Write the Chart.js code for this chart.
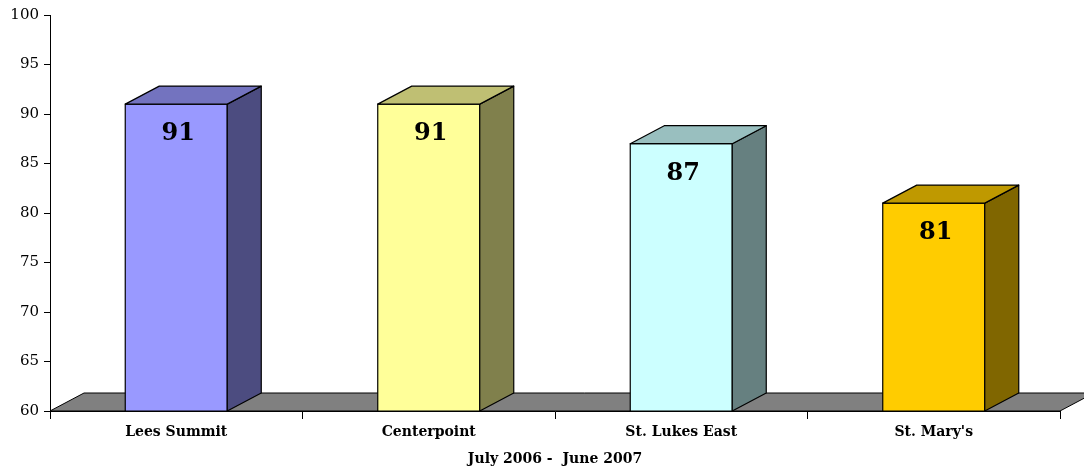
<!DOCTYPE html>
<html>
<head>
<meta charset="utf-8">
<script src="https://cdn.jsdelivr.net/npm/chart.js@4.4.0/dist/chart.umd.min.js"></script>
<style>
  html, body { margin: 0; padding: 0; background: #fff; }
  #wrap { width: 1084px; height: 471px; }
</style>
</head>
<body>
<div id="wrap"><canvas id="grafico"></canvas></div>
<script>
  const categorias = ['Lees Summit', 'Centerpoint', 'St. Lukes East', "St. Mary's"];
  const valores = [91, 91, 87, 81];
  const corFrente = ['#9999FF', '#FFFF99', '#CCFFFF', '#FFCC00'];
  const corTopo = ['#7373BF', '#BFBF73', '#99BFBF', '#BF9900'];
  const corLado = ['#4C4C80', '#80804C', '#668080', '#806600'];
  const periodo = 'July 2006 -  June 2007';

  const serif = "'DejaVu Serif', 'Liberation Serif', serif";
  const PROF_X = 34, PROF_Y = 18; // profundidade do efeito 3D

  // chao cinza + faces laterais/topo das barras
  const efeito3d = {
    id: 'efeito3d',
    beforeDatasetsDraw(chart) {
      const { ctx, chartArea: a } = chart;
      ctx.save();
      ctx.beginPath();
      ctx.moveTo(a.left, a.bottom);
      ctx.lineTo(a.right, a.bottom);
      ctx.lineTo(a.right + PROF_X, a.bottom - PROF_Y);
      ctx.lineTo(a.left + PROF_X, a.bottom - PROF_Y);
      ctx.closePath();
      ctx.fillStyle = '#808080';
      ctx.fill();
      ctx.lineWidth = 1;
      ctx.strokeStyle = '#000';
      ctx.stroke();
      ctx.restore();
    },
    afterDatasetsDraw(chart) {
      const { ctx } = chart;
      const meta = chart.getDatasetMeta(0);
      const eixoY = chart.scales.y;
      const b = eixoY.getPixelForValue(eixoY.min);
      ctx.save();
      ctx.lineWidth = 1.2;
      ctx.strokeStyle = '#000';
      ctx.lineJoin = 'round';
      meta.data.forEach((bar, i) => {
        const l = bar.x - bar.width / 2, r = bar.x + bar.width / 2;
        const t = bar.y;
        // frente (contorno inteiro)
        ctx.strokeRect(l, t, r - l, b - t);
        // lado
        ctx.beginPath();
        ctx.moveTo(r, b);
        ctx.lineTo(r + PROF_X, b - PROF_Y);
        ctx.lineTo(r + PROF_X, t - PROF_Y);
        ctx.lineTo(r, t);
        ctx.closePath();
        ctx.fillStyle = corLado[i];
        ctx.fill();
        ctx.stroke();
        // topo
        ctx.beginPath();
        ctx.moveTo(l, t);
        ctx.lineTo(l + PROF_X, t - PROF_Y);
        ctx.lineTo(r + PROF_X, t - PROF_Y);
        ctx.lineTo(r, t);
        ctx.closePath();
        ctx.fillStyle = corTopo[i];
        ctx.fill();
        ctx.stroke();
        // valor
        ctx.fillStyle = '#000';
        ctx.font = 'bold 24px ' + serif;
        ctx.textAlign = 'center';
        ctx.textBaseline = 'middle';
        ctx.fillText(String(valores[i]), bar.x + 2, t + 30);
      });
      ctx.restore();
    }
  };

  const ctx = document.getElementById('grafico').getContext('2d');
  new Chart(ctx, {
    type: 'bar',
    data: {
      labels: categorias,
      datasets: [{
        data: valores,
        backgroundColor: corFrente,
        borderColor: '#000',
        borderWidth: 0,
        barPercentage: 1,
        categoryPercentage: 0.404
      }]
    },
    options: {
      responsive: true,
      maintainAspectRatio: false,
      animation: false,
      layout: { padding: { top: 15, right: 24, left: 0, bottom: 0 } },
      plugins: { legend: { display: false }, tooltip: { enabled: false } },
      scales: {
        x: {
          afterFit(s) { s.height = 60; },
          border: { display: true, color: '#000', width: 1 },
          grid: { display: true, drawOnChartArea: false, drawTicks: true, tickLength: 8, color: '#000', offset: true },
          ticks: { color: '#000', padding: 5, font: { family: serif, size: 14, weight: 'bold' } },
          title: { display: true, text: periodo, color: '#000', padding: { top: 4, bottom: 3 }, font: { family: serif, size: 14, weight: 'bold' } }
        },
        y: {
          min: 60,
          max: 100,
          afterFit(s) { s.width = 50; },
          border: { display: true, color: '#000', width: 1 },
          grid: { display: true, drawOnChartArea: false, drawTicks: true, tickLength: 6, color: '#000' },
          ticks: { stepSize: 5, color: '#000', padding: 5, font: { family: serif, size: 15 } }
        }
      }
    },
    plugins: [efeito3d]
  });
</script>
</body>
</html>
